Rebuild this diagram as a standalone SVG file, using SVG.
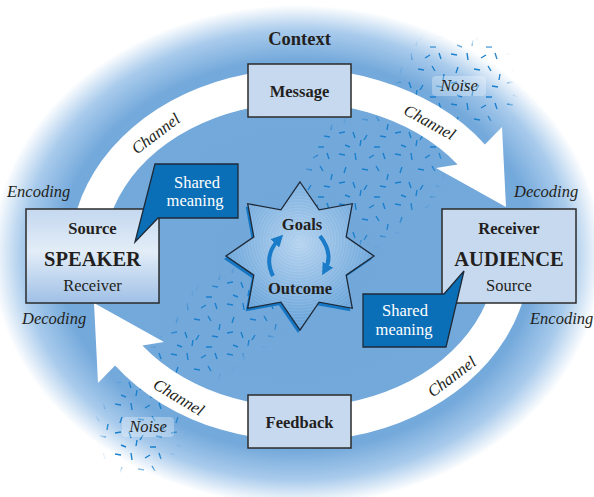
<svg xmlns="http://www.w3.org/2000/svg" width="594" height="497" viewBox="0 0 594 497">
<defs>
<radialGradient id="bg" cx="297" cy="255" r="1" gradientUnits="userSpaceOnUse" gradientTransform="translate(297 255) scale(305 250) translate(-297 -255)">
<stop offset="0" stop-color="#72a7da"/>
<stop offset="0.78" stop-color="#74a9db"/>
<stop offset="0.9" stop-color="#a9cbec"/>
<stop offset="1" stop-color="#ffffff"/>
</radialGradient>
<linearGradient id="srcg" x1="0" y1="0" x2="0" y2="1">
<stop offset="0" stop-color="#c4d8ef"/>
<stop offset="0.45" stop-color="#e3edf8"/>
<stop offset="1" stop-color="#9fc0e6"/>
</linearGradient>
<radialGradient id="starg" cx="0.5" cy="0.42" r="0.6">
<stop offset="0" stop-color="#b3d2ef"/>
<stop offset="1" stop-color="#5c9cd6"/>
</radialGradient>
<radialGradient id="rings" cx="298" cy="240" r="3" gradientUnits="userSpaceOnUse" spreadMethod="repeat">
<stop offset="0" stop-color="#ffffff" stop-opacity="0"/>
<stop offset="0.5" stop-color="#ffffff" stop-opacity="0.12"/>
<stop offset="1" stop-color="#ffffff" stop-opacity="0"/>
</radialGradient>
<pattern id="nz" width="56" height="50" patternUnits="userSpaceOnUse">
<path stroke="#1a7fcc" stroke-width="1.4" fill="none" d="M3 4l6 1 M19 3l1 7 M33 8l5-3 M47 3l2 6 M10 17l-2 6 M26 19l6 1 M40 16l3 5 M52 24l-1 6 M3 33l6-1 M17 32l2 6 M31 35l-3 5 M44 36l6 1 M9 45l5 2 M24 46l1-6 M38 47l6 0"/>
</pattern>
<filter id="soft" x="-20%" y="-20%" width="140%" height="140%"><feGaussianBlur stdDeviation="4"/></filter>
<mask id="m1" maskUnits="userSpaceOnUse" x="0" y="0" width="594" height="497">
<path fill="white" filter="url(#soft)" d="M420 45 L500 45 L512 110 L445 150 L430 200 L380 240 L345 245 L305 240 L300 195 L320 130 L390 115 L405 70 Z"/>
<path fill="white" filter="url(#soft)" d="M292 280 L278 330 L232 362 L188 395 L176 440 L156 472 L112 465 L100 420 L122 385 L165 340 L200 290 L250 265 Z"/>
</mask>
<marker id="ah" viewBox="0 0 10 10" refX="5" refY="5" markerWidth="3" markerHeight="3" orient="auto">
<path d="M0 0 L10 5 L0 10 Z" fill="#1a7cc8"/>
</marker>
<style>
.box{fill:#c6d9ef;stroke:#2b2b2b;stroke-width:1.5}
.call{fill:#0b6fb8;stroke:#1e2a38;stroke-width:1.3}
text{font-family:'Liberation Serif','Times New Roman',serif;fill:#231f20;text-anchor:middle;font-size:16.5px}
.b{font-weight:bold}
.i{font-style:italic}
.w{fill:#ffffff}
.s{text-anchor:start}
.big{font-size:20.5px}
.ctx{font-size:18.5px}
.arrow{fill:#ffffff}
</style>
</defs>

<ellipse cx="297" cy="255" rx="305" ry="250" fill="url(#bg)"/>

<g id="noise">
<rect x="0" y="0" width="594" height="497" fill="url(#nz)" mask="url(#m1)"/>
</g>

<g id="connectors">
<path class="arrow" d="M73.5 222.7 A230 186 0 0 1 484.9 144.4 L502 127 L506 207 L436 168 L457.6 164.6 A196 152 0 0 0 107 228.6 Z"/>
<path class="arrow" d="M526.5 287.3 A230 186 0 0 1 115.1 365.6 L98 383 L94 303 L164 342 L142.4 345.4 A196 152 0 0 0 493 281.4 Z"/>
<text class="i" transform="translate(159 138) rotate(-37)">Channel</text>
<text class="i" transform="translate(427 127) rotate(29)">Channel</text>
<text class="i" transform="translate(176 402) rotate(31)">Channel</text>
<text class="i" transform="translate(455 381) rotate(-37)">Channel</text>
</g>

<rect x="432" y="76" width="54" height="20" rx="4" fill="#ffffff" opacity="0.3"/>
<text class="i" x="459" y="91">Noise</text>
<rect x="122" y="417" width="52" height="20" rx="4" fill="#ffffff" opacity="0.3"/>
<text class="i" x="148" y="432">Noise</text>

<text class="b ctx" x="299.5" y="45">Context</text>

<g id="message">
<rect class="box" x="248" y="64" width="103" height="53"/>
<text class="b" x="299.5" y="97">Message</text>
</g>
<g id="feedback">
<rect class="box" x="248" y="395" width="103" height="53"/>
<text class="b" x="299.5" y="428">Feedback</text>
</g>

<g id="speaker">
<rect x="26" y="209" width="133" height="94" fill="url(#srcg)" stroke="#2b2b2b" stroke-width="1.5"/>
<text class="b" x="92.5" y="234">Source</text>
<text class="b big" x="92.5" y="266">SPEAKER</text>
<text x="92.5" y="291">Receiver</text>
</g>
<g id="audience">
<rect class="box" x="442" y="209" width="134" height="94"/>
<text class="b" x="509" y="234">Receiver</text>
<text class="b big" x="509" y="266">AUDIENCE</text>
<text x="509" y="291">Source</text>
</g>

<g id="shared-left">
<path class="call" d="M155 164 L238 164 L238 218 L158 218 L135 242 Z"/>
<text class="w" x="197" y="188">Shared</text>
<text class="w" x="195" y="206">meaning</text>
</g>
<g id="shared-right">
<path class="call" d="M363 294 L444 294 L464 271 L446 347 L363 347 Z"/>
<text class="w" x="405" y="316">Shared</text>
<text class="w" x="404" y="335">meaning</text>
</g>

<text class="i s" x="7" y="197">Encoding</text>
<text class="i s" x="514" y="197">Decoding</text>
<text class="i s" x="22" y="324">Decoding</text>
<text class="i s" x="530" y="324">Encoding</text>

<g id="goals">
<path transform="translate(-2 3)" fill="#1577c4" d="M300 182 L319.1 209.8 L352.3 203.7 L346.2 236.9 L374 256 L346.2 275.1 L352.3 308.3 L319.1 302.2 L300 330 L280.9 302.2 L247.7 308.3 L253.8 275.1 L226 256 L253.8 236.9 L247.7 203.7 L280.9 209.8 Z"/>
<path fill="url(#starg)" d="M300 182 L319.1 209.8 L352.3 203.7 L346.2 236.9 L374 256 L346.2 275.1 L352.3 308.3 L319.1 302.2 L300 330 L280.9 302.2 L247.7 308.3 L253.8 275.1 L226 256 L253.8 236.9 L247.7 203.7 L280.9 209.8 Z"/>
<path fill="url(#rings)" stroke="#1e2a38" stroke-width="1.3" d="M300 182 L319.1 209.8 L352.3 203.7 L346.2 236.9 L374 256 L346.2 275.1 L352.3 308.3 L319.1 302.2 L300 330 L280.9 302.2 L247.7 308.3 L253.8 275.1 L226 256 L253.8 236.9 L247.7 203.7 L280.9 209.8 Z"/>
<path d="M273 276 Q263 256 279 239" fill="none" stroke="#1a7cc8" stroke-width="4" marker-end="url(#ah)"/>
<path d="M320 236 Q334 254 325 270" fill="none" stroke="#1a7cc8" stroke-width="4" marker-end="url(#ah)"/>
<text class="b" x="302" y="230">Goals</text>
<text class="b" x="300" y="294">Outcome</text>
</g>
</svg>
